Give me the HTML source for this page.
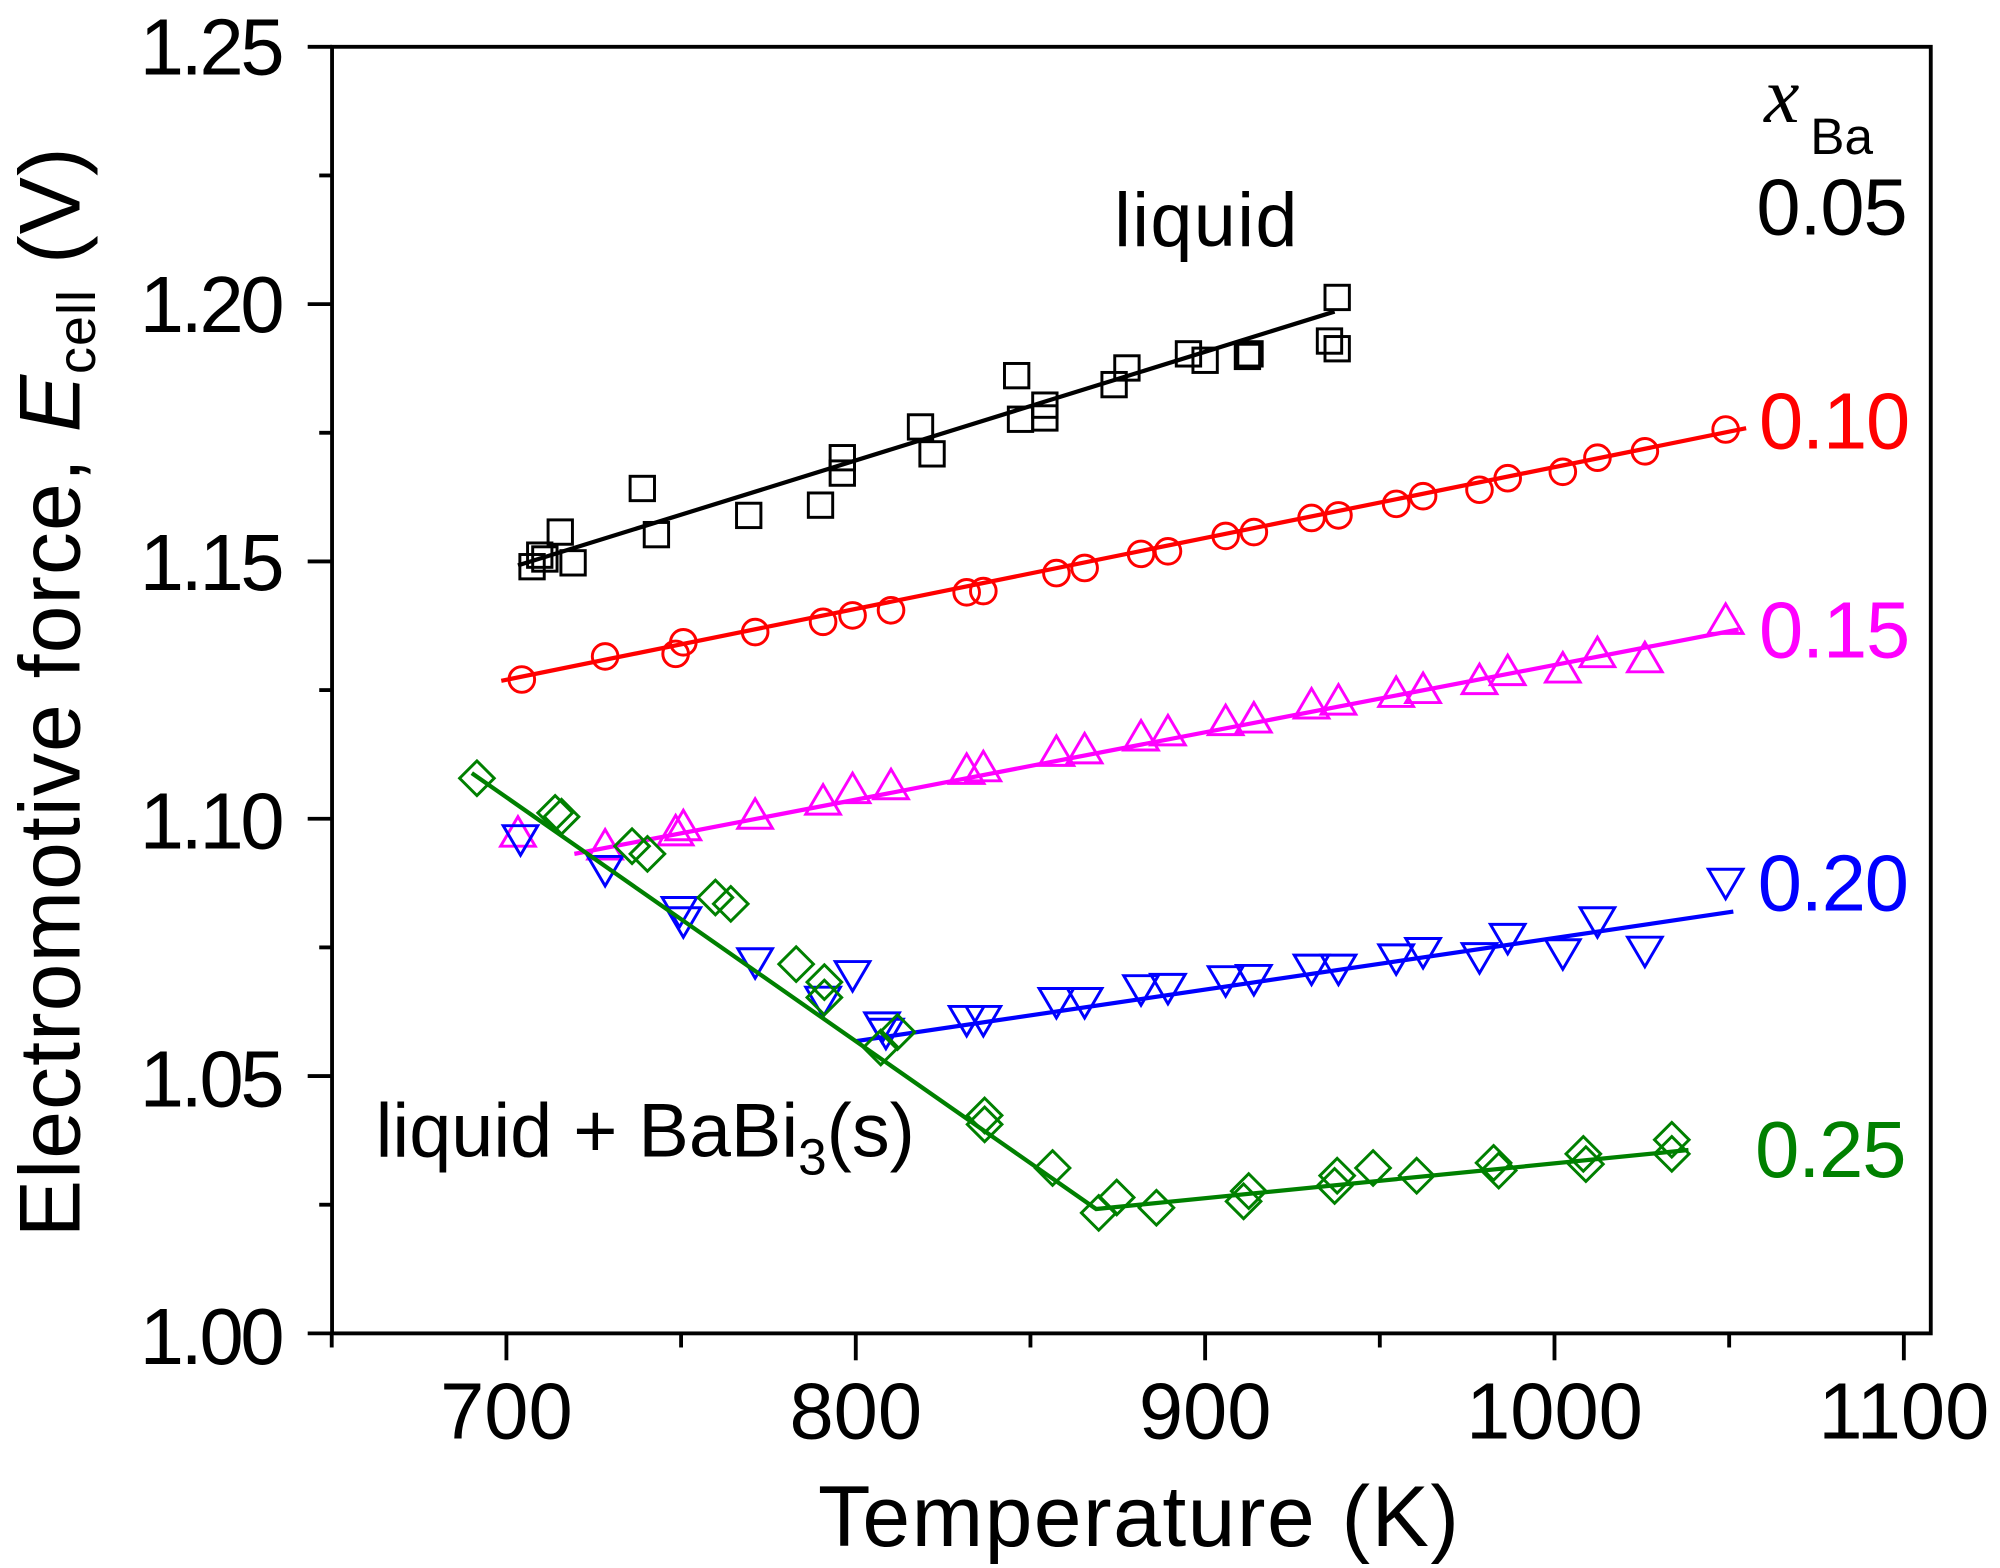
<!DOCTYPE html>
<html><head><meta charset="utf-8"><style>html,body{margin:0;padding:0;background:#fff}svg{display:block}</style></head>
<body>
<svg id="s" width="2000" height="1568" viewBox="0 0 1560 1223" preserveAspectRatio="none" xmlns="http://www.w3.org/2000/svg" font-family="Liberation Sans, Arial, sans-serif">
<g id="ax" stroke="#000" stroke-width="3" fill="none">
<rect x="259" y="36.5" width="1247" height="1003.5"/>
</g>
<g id="g"></g>
<g font-size="62" fill="#000" text-anchor="end">
<text x="222" y="58" textLength="113">1.25</text>
<text x="222" y="259" textLength="113">1.20</text>
<text x="222" y="460" textLength="113">1.15</text>
<text x="222" y="662" textLength="113">1.10</text>
<text x="222" y="863" textLength="113">1.05</text>
<text x="222" y="1064" textLength="113">1.00</text>
</g>
<g font-size="62" fill="#000" text-anchor="middle">
<text x="395" y="1122">700</text>
<text x="667.5" y="1122">800</text>
<text x="940" y="1122">900</text>
<text x="1212.5" y="1122">1000</text>
<text x="1485" y="1122">1100</text>
</g>
<text x="888" y="1206" font-size="67" text-anchor="middle" textLength="500">Temperature (K)</text>
<text transform="translate(62,540) rotate(-90)" font-size="67" text-anchor="middle" textLength="850">Electromotive force, <tspan font-style="italic">E</tspan><tspan font-size="42" dy="12">cell</tspan><tspan dy="-12"> (V)</tspan></text>
<text x="869" y="192" font-size="59" textLength="143">liquid</text>
<text x="293" y="902" font-size="59">liquid + BaBi<tspan font-size="40" dy="14">3</tspan><tspan dy="-14">(s)</tspan></text>
<text x="1376" y="95" font-size="62" font-style="italic" font-family="Liberation Serif, serif">x</text>
<text x="1412" y="120" font-size="40">Ba</text>
<g font-size="62" text-anchor="end">
<text x="1488" y="183" fill="#000" textLength="118">0.05</text>
<text x="1490" y="350" fill="#ff0000" textLength="118">0.10</text>
<text x="1490" y="513" fill="#ff00ff" textLength="118">0.15</text>
<text x="1489" y="710" fill="#0000ff" textLength="118">0.20</text>
<text x="1487" y="918" fill="#008000" textLength="118">0.25</text>
</g>
</svg>
<script>
var NS="http://www.w3.org/2000/svg",g=document.getElementById('g'),ax=document.getElementById('ax');
function el(t,a,p){var e=document.createElementNS(NS,t);for(var k in a)e.setAttribute(k,a[k]);(p||g).appendChild(e);return e;}
for(var i=0;i<=10;i++){var y=36.5+i*100.35;var L=(i%2==0)?19:10;el('line',{x1:259-L,y1:y,x2:259,y2:y},ax);}
for(var v=650;v<=1100;v+=50){var x=395+(v-700)*2.725;var L=(v%100==0)?21:11;el('line',{x1:x,y1:1040,x2:x,y2:1040+L},ax);}
var SW=2.3;
function line(c,pts){el('polyline',{points:pts,stroke:c,'stroke-width':3.3,fill:'none'});}
function sq(c,p){p.forEach(function(q){el('rect',{x:q[0]-9.5,y:q[1]-9.5,width:19,height:19,stroke:c,'stroke-width':SW,fill:'none'});});}
function ci(c,p){p.forEach(function(q){el('circle',{cx:q[0],cy:q[1],r:10,stroke:c,'stroke-width':SW,fill:'none'});});}
function tu(c,p){p.forEach(function(q){var x=q[0],y=q[1];el('polygon',{points:(x-13.5)+','+(y+8)+' '+(x+13.5)+','+(y+8)+' '+x+','+(y-15),stroke:c,'stroke-width':SW,fill:'none'});});}
function td(c,p){p.forEach(function(q){var x=q[0],y=q[1];el('polygon',{points:(x-13.5)+','+(y-8)+' '+(x+13.5)+','+(y-8)+' '+x+','+(y+15),stroke:c,'stroke-width':SW,fill:'none'});});}
function di(c,p){p.forEach(function(q){var x=q[0],y=q[1],d=13.5;el('polygon',{points:x+','+(y-d)+' '+(x+d)+','+y+' '+x+','+(y+d)+' '+(x-d)+','+y,stroke:c,'stroke-width':SW,fill:'none'});});}
line('#000','404,441 1041,243');
sq('#000',[[415,442],[421,433],[425,436],[437,415],[447,439],[501,381],[512,417],[584,402],[640,394],[657,357],[657,369],[718,333],[727,354],[793,293],[796,327],[815,316],[815,326],[869,300],[879,287],[927,276],[940,281],[973,278],[975,276],[1037,266],[1043,232],[1043,272]]);
line('#ff0000','391,531 1362,334');
ci('#ff0000',[[407,530],[472,512],[527,510],[533,501],[589,493],[642,485],[665,480],[695,476],[754,462],[767,461],[824,447],[846,443],[890,432],[911,430],[956,418],[978,415],[1023,404],[1044,402],[1089,393],[1110,387],[1154,382],[1176,373],[1219,368],[1246,357],[1283,352],[1346,335]]);
line('#ff00ff','448,666 1356,491');
tu('#ff00ff',[[404,652],[472,662],[527,651],[533,647],[589,638],[642,627],[665,618],[695,615],[754,603],[767,601],[824,589],[846,587],[890,577],[911,573],[956,565],[978,563],[1023,552],[1044,549],[1089,543],[1110,540],[1154,533],[1176,526],[1219,524],[1246,512],[1283,516],[1346,486]]);
line('#0000ff','668,812 1352,711');
td('#0000ff',[[406,652],[472,676],[530,708],[533,716],[589,748],[642,778],[665,758],[688,798],[691,803],[754,793],[767,793],[824,779],[846,779],[890,769],[911,768],[956,762],[978,761],[1023,753],[1044,753],[1089,745],[1110,740],[1154,744],[1176,729],[1219,741],[1246,716],[1283,739],[1346,686]]);
line('#008000','368,603 855,943 1317,897');
di('#008000',[[372,607],[433,634],[438,637],[493,660],[505,666],[558,700],[570,705],[621,752],[643,766],[643,778],[687,817],[700,805],[768,870],[768,877],[821,911],[857,946],[871,934],[902,942],[970,937],[974,929],[1041,925],[1043,917],[1071,911],[1105,917],[1165,907],[1169,913],[1235,900],[1237,908],[1304,889],[1304,900]]);
</script>
</body></html>
